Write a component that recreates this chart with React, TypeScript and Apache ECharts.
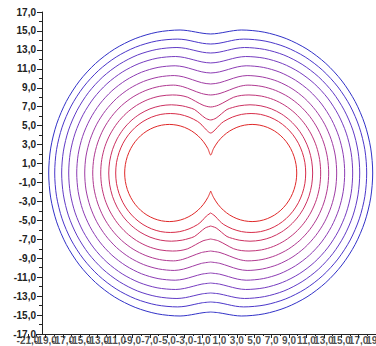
import React, { useEffect, useRef } from "react";
import * as echarts from "echarts";

// Tick values for both axes
const xTicks = { min: -21, max: 21, step: 2 };
const yTicks = { min: -17, max: 17, step: 2 };
const xLabelValues = [-21, -19, -17, -15, -13, -11, -9, -7, -5, -3, -1, 1, 3, 5, 7, 9, 11, 13, 15, 17, 19, 21];

// Contour levels, innermost (red) to outermost (blue).
// Each list is the first-quadrant half of one closed curve,
// going from the point on the x axis up to the point on the y axis.
const c0 = [[9.89, 0], [9.81, 0.89], [9.58, 1.75], [9.2, 2.57], [8.69, 3.3], [8.06, 3.93], [7.33, 4.44], [6.51, 4.82], [5.65, 5.05], [4.76, 5.13], [3.87, 5.05], [3.01, 4.82], [2.19, 4.44], [1.46, 3.93], [0.83, 3.3], [0.32, 2.57], [0, 1.9]];
const c1 = [[10.92, 0], [10.83, 1.09], [10.54, 2.15], [10.08, 3.14], [9.45, 4.04], [8.68, 4.81], [7.78, 5.44], [6.79, 5.9], [5.73, 6.19], [4.64, 6.28], [3.55, 6.19], [2.49, 5.9], [1.5, 5.44], [1.0, 5.05], [0.5, 4.55], [0, 4.22]];
const c2 = [[11.72, 0], [11.61, 1.25], [11.29, 2.46], [10.76, 3.6], [10.04, 4.63], [9.15, 5.52], [8.12, 6.24], [6.98, 6.77], [5.77, 7.09], [4.52, 7.2], [3.27, 7.09], [2.5, 6.91], [1.875, 6.71], [1.25, 6.26], [0.625, 5.8], [0, 5.6]];
const c3 = [[12.64, 0], [12.52, 1.43], [12.15, 2.82], [11.54, 4.12], [10.71, 5.3], [9.7, 6.31], [8.52, 7.14], [7.22, 7.75], [5.83, 8.12], [4.4, 8.24], [3.52, 8.19], [2.64, 8.0], [1.76, 7.58], [0.88, 7.16], [0, 6.97]];
const c4 = [[13.56, 0], [13.42, 1.61], [13.0, 3.17], [12.32, 4.64], [11.39, 5.97], [10.25, 7.11], [8.92, 8.04], [7.45, 8.72], [5.89, 9.14], [4.28, 9.28], [3.21, 9.12], [2.14, 8.76], [1.07, 8.4], [0, 8.24]];
const c5 = [[14.48, 0], [14.33, 1.79], [13.86, 3.52], [13.1, 5.15], [12.07, 6.61], [10.81, 7.88], [9.34, 8.91], [7.71, 9.67], [5.98, 10.13], [4.19, 10.29], [3.14, 10.15], [2.1, 9.85], [1.05, 9.54], [0, 9.4]];
const c6 = [[15.4, 0], [15.23, 1.97], [14.72, 3.87], [13.88, 5.66], [12.75, 7.28], [11.36, 8.67], [9.74, 9.8], [7.95, 10.64], [6.05, 11.15], [4.08, 11.32], [3.06, 11.2], [2.04, 10.94], [1.02, 10.68], [0, 10.56]];
const c7 = [[16.32, 0], [16.14, 2.14], [15.58, 4.21], [14.67, 6.15], [13.44, 7.91], [11.93, 9.42], [10.17, 10.65], [8.23, 11.56], [6.16, 12.12], [4.02, 12.3], [3.02, 12.19], [2.01, 11.96], [1.01, 11.73], [0, 11.62]];
const c8 = [[17.13, 0], [16.93, 2.31], [16.34, 4.53], [15.35, 6.63], [14.03, 8.52], [12.4, 10.15], [10.51, 11.47], [8.41, 12.46], [6.19, 13.05], [3.88, 13.25], [2.91, 13.16], [1.94, 12.96], [0.97, 12.76], [0, 12.67]];
const c9 = [[17.93, 0], [17.72, 2.46], [17.08, 4.84], [16.04, 7.07], [14.62, 9.09], [12.88, 10.83], [10.86, 12.25], [8.63, 13.29], [6.25, 13.93], [3.79, 14.14], [2.84, 14.06], [1.9, 13.88], [0.95, 13.7], [0, 13.62]];
const c10 = [[18.62, 0], [18.39, 2.63], [17.71, 5.16], [16.6, 7.55], [15.09, 9.71], [13.23, 11.57], [11.07, 13.08], [8.68, 14.19], [6.15, 14.87], [3.52, 15.1], [2.64, 15.03], [1.76, 14.89], [0.88, 14.75], [0, 14.68]];

const contours = [c0, c1, c2, c3, c4, c5, c6, c7, c8, c9, c10];
const contourColors = [
  "#e02828", "#d82c48", "#cc3060", "#c03478", "#b03890", "#a03ca4",
  "#8c3cb4", "#763cc0", "#603ac6", "#4a36ca", "#3232c8",
];

function closeCurve(q: number[][]): number[][] {
  const q1 = q.map(([x, y]) => [x, y]);
  const q4 = q.slice().reverse().map(([x, y]) => [x, -y]);
  const q2 = q.slice().reverse().slice(1).map(([x, y]) => [-x, y]);
  const q3 = q.slice(1).map(([x, y]) => [-x, -y]);
  return [...q4, ...q1.slice(1), ...q2, ...q3];
}

const fmt = (v: number) => v.toFixed(1).replace(".", ",");

export default function App() {
  const ref = useRef<HTMLDivElement>(null);
  useEffect(() => {
    if (!ref.current) return;
    const chart = echarts.init(ref.current, null, { renderer: "svg" });
    const labelStyle = {
      fontSize: 10,
      fontWeight: "bold" as const,
      color: "#222",
      fontFamily: "Liberation Sans, Arial, sans-serif",
    };
    chart.setOption({
      animation: false,
      backgroundColor: "#ffffff",
      grid: [
        { left: 28, width: 365.4, top: 12, height: 322, outerBoundsMode: "none", containLabel: false },
        { left: 42, width: 351.4, top: 12, height: 322, outerBoundsMode: "none", containLabel: false },
      ],
      xAxis: [
        {
          type: "value",
          gridIndex: 0,
          min: xTicks.min,
          max: xTicks.max,
          interval: xTicks.step,
          axisLine: { show: false, onZero: false },
          axisTick: { show: true, length: 4, lineStyle: { color: "#222" } },
          minorTick: { show: true, splitNumber: 2, length: 2, lineStyle: { color: "#222" } },
          splitLine: { show: false },
          axisLabel: { show: false },
        },
        {
          type: "value",
          gridIndex: 1,
          min: 0,
          max: 1,
          axisLine: { show: true, onZero: false, lineStyle: { color: "#222", width: 1 } },
          axisTick: { show: false },
          axisLabel: { show: false },
          splitLine: { show: false },
        },
      ],
      yAxis: [
        {
          type: "value",
          gridIndex: 0,
          min: yTicks.min,
          max: yTicks.max,
          interval: yTicks.step,
          offset: -14,
          axisLine: { show: true, onZero: false, lineStyle: { color: "#222", width: 1 } },
          axisTick: { show: true, length: 5, lineStyle: { color: "#222" } },
          minorTick: { show: true, splitNumber: 2, length: 3, lineStyle: { color: "#222" } },
          splitLine: { show: false },
          axisLabel: { ...labelStyle, margin: 6, formatter: fmt },
        },
        { type: "value", gridIndex: 1, show: false, min: 0, max: 1 },
      ],
      series: [
        ...contours.map((q, i) => ({
          type: "line",
          xAxisIndex: 0,
          yAxisIndex: 0,
          data: closeCurve(q),
          smooth: 0.3,
          symbol: "none",
          lineStyle: { color: contourColors[i], width: 1 },
          silent: true,
        })),
        {
          type: "scatter",
          xAxisIndex: 0,
          yAxisIndex: 0,
          data: xLabelValues.map((v) => [v, yTicks.min]),
          symbolSize: 1,
          itemStyle: { color: "rgba(0,0,0,0)" },
          clip: false,
          silent: true,
          label: {
            show: true,
            position: "bottom",
            distance: 1,
            ...labelStyle,
            formatter: (p: any) => fmt(p.value[0]),
          },
        },
      ],
    });
    return () => chart.dispose();
  }, []);
  return (
    <div style={{ position: "fixed", left: 0, top: 0, width: 376, height: 346, overflow: "hidden", background: "#fff" }}>
      <div ref={ref} style={{ width: 376, height: 346 }} />
    </div>
  );
}
